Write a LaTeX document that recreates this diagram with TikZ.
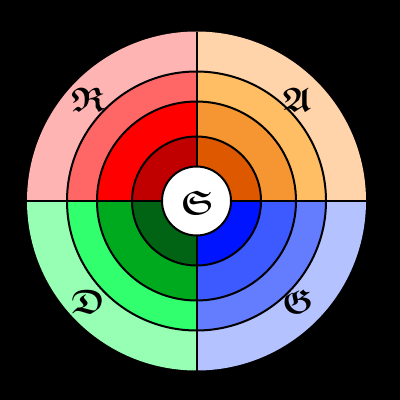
\documentclass[tikz,border=0pt]{standalone}
\usepackage{amssymb}
\usepackage{bm}
\definecolor{r1}{RGB}{255,180,180}
\definecolor{r2}{RGB}{255,102,102}
\definecolor{r3}{RGB}{255,0,0}
\definecolor{r4}{RGB}{192,0,0}
\definecolor{a1}{RGB}{255,212,170}
\definecolor{a2}{RGB}{255,190,100}
\definecolor{a3}{RGB}{245,150,50}
\definecolor{a4}{RGB}{222,88,0}
\definecolor{g1}{RGB}{180,195,255}
\definecolor{g2}{RGB}{100,125,255}
\definecolor{g3}{RGB}{60,90,255}
\definecolor{g4}{RGB}{0,20,255}
\definecolor{d1}{RGB}{150,255,180}
\definecolor{d2}{RGB}{50,255,110}
\definecolor{d3}{RGB}{0,170,30}
\definecolor{d4}{RGB}{0,100,20}
\begin{document}
\begin{tikzpicture}[x=1pt,y=-1pt,
  ringline/.style={draw=black,line width=2pt},
  letter/.style={font=\fontsize{34}{34}\selectfont, inner sep=0pt}]
\fill[black] (0,0) rectangle (400,400);
\useasboundingbox (0,0) rectangle (400,400);
\coordinate (c) at (196.5,201);
\foreach \s/\ca/\cb/\cc/\cd in {180/r1/r2/r3/r4, 270/a1/a2/a3/a4, 0/g1/g2/g3/g4, 90/d1/d2/d3/d4}{
  \fill[\ca] (c) -- ++(\s:169.5) arc[start angle=\s, delta angle=90, radius=169.5] -- cycle;
  \fill[\cb] (c) -- ++(\s:129.5) arc[start angle=\s, delta angle=90, radius=129.5] -- cycle;
  \fill[\cc] (c) -- ++(\s:99.5) arc[start angle=\s, delta angle=90, radius=99.5] -- cycle;
  \fill[\cd] (c) -- ++(\s:64.5) arc[start angle=\s, delta angle=90, radius=64.5] -- cycle;
}
\draw[ringline] (c) circle[radius=129.5];
\draw[ringline] (c) circle[radius=99.5];
\draw[ringline] (c) circle[radius=64.5];
\coordinate (top) at (196.5,31.5);
\coordinate (bot) at (196.5,370.5);
\coordinate (lft) at (27,201);
\coordinate (rgt) at (366,201);
\draw[ringline] (top) -- (bot);
\draw[ringline] (lft) -- (rgt);
\node[circle, fill=white, draw=black, line width=2pt, minimum size=69pt, inner sep=0pt] (s) at (c) {};
\node[letter] (S) at (197,203) {$\bm{\mathfrak{S}}$};
\node[letter] (R) at (88,100) {$\bm{\mathfrak{R}}$};
\node[letter] (A) at (297,100) {$\bm{\mathfrak{A}}$};
\node[letter] (D) at (88,302) {$\bm{\mathfrak{D}}$};
\node[letter] (G) at (298,302) {$\bm{\mathfrak{G}}$};
\end{tikzpicture}
\end{document}
